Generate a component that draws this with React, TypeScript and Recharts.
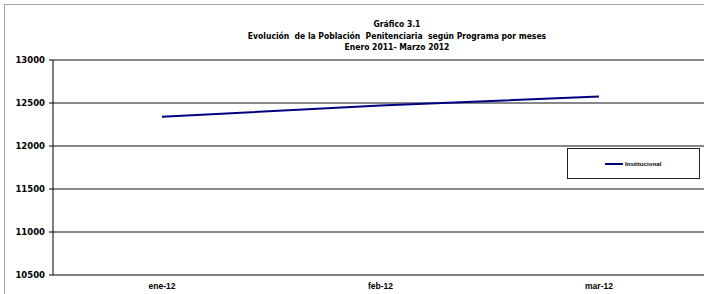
import React from 'react';
import { LineChart, Line, XAxis, YAxis, CartesianGrid } from 'recharts';

const months = ['ene-12', 'feb-12', 'mar-12'];
const institucional = [12340, 12470, 12575];
const yTicks = [10500, 11000, 11500, 12000, 12500, 13000];
const edgeTicks = [0, 1, 2, 3];
const titleLines = [
  'Gráfico 3.1',
  'Evolución  de la Población  Penitenciaria  según Programa por meses',
  'Enero 2011- Marzo 2012',
];
const seriesName = 'Institucional';

const data = months.map((m, i) => ({ month: m, value: institucional[i] }));

const titleFont = '"DejaVu Sans Condensed", "Liberation Sans", sans-serif';

const LegendBox = () => (
  <div
    style={{
      position: 'absolute',
      left: 567,
      top: 148,
      width: 131,
      height: 29,
      border: '1px solid #222',
      display: 'flex',
      alignItems: 'center',
    }}
  >
    <div style={{ width: 18, height: 0, borderTop: '2px solid #000080', marginLeft: 37 }} />
    <span
      style={{
        fontFamily: '"Liberation Sans", sans-serif',
        fontWeight: 'bold',
        fontSize: 6.2,
        marginLeft: 2,
        color: '#000',
      }}
    >
      {seriesName}
    </span>
  </div>
);

export default function App() {
  return (
    <div
      style={{
        position: 'fixed',
        left: 0,
        top: 0,
        width: 704,
        height: 294,
        overflow: 'hidden',
        background: '#fff',
      }}
    >
      <div
        style={{
          position: 'absolute',
          left: 4,
          top: 4,
          width: 800,
          height: 400,
          borderLeft: '1px solid #a6a6a6',
          borderTop: '1px solid #a6a6a6',
        }}
      />
      <div
        style={{
          position: 'absolute',
          left: 0,
          top: 19,
          width: 794,
          textAlign: 'center',
          fontFamily: titleFont,
          fontWeight: 'bold',
          fontSize: 8.5,
          lineHeight: '11.7px',
          color: '#000',
          whiteSpace: 'pre',
        }}
      >
        {titleLines.map((t) => (
          <div key={t}>{t}</div>
        ))}
      </div>
      <div style={{ position: 'absolute', left: 0, top: 0 }}>
        <LineChart width={720} height={294} data={data} margin={{ top: 60, right: 12, bottom: 0, left: 0 }}>
          <CartesianGrid horizontal vertical={false} stroke="#111" strokeOpacity={1} xAxisId="b" />
          <XAxis
            xAxisId="a"
            type="number"
            domain={[0, 3]}
            ticks={edgeTicks}
            height={4}
            axisLine={{ stroke: '#808080', strokeWidth: 2 }}
            tickSize={4}
            tickLine={{ stroke: '#000' }}
            tick={false}
            allowDataOverflow
          />
          <XAxis
            xAxisId="b"
            dataKey="month"
            height={15}
            padding={{ left: 109, right: 109 }}
            tickLine={false}
            axisLine={false}
            tickSize={0}
            tickMargin={4}
            tick={{ fontFamily: '"Liberation Sans", sans-serif', fontWeight: 'bold', fontSize: 8.5, fill: '#000' }}
            interval={0}
          />
          <YAxis
            width={53}
            domain={[10500, 13000]}
            ticks={yTicks}
            type="number"
            allowDataOverflow
            tickSize={4}
            tickMargin={4}
            axisLine={{ stroke: '#000' }}
            tickLine={{ stroke: '#000' }}
            tick={{ fontFamily: '"DejaVu Sans", sans-serif', fontWeight: 'bold', fontSize: 8.5, fill: '#000' }}
          />
          <Line
            xAxisId="b"
            type="linear"
            dataKey="value"
            name={seriesName}
            stroke="#000080"
            strokeWidth={2}
            dot={false}
            isAnimationActive={false}
          />
        </LineChart>
      </div>
      <LegendBox />
    </div>
  );
}
